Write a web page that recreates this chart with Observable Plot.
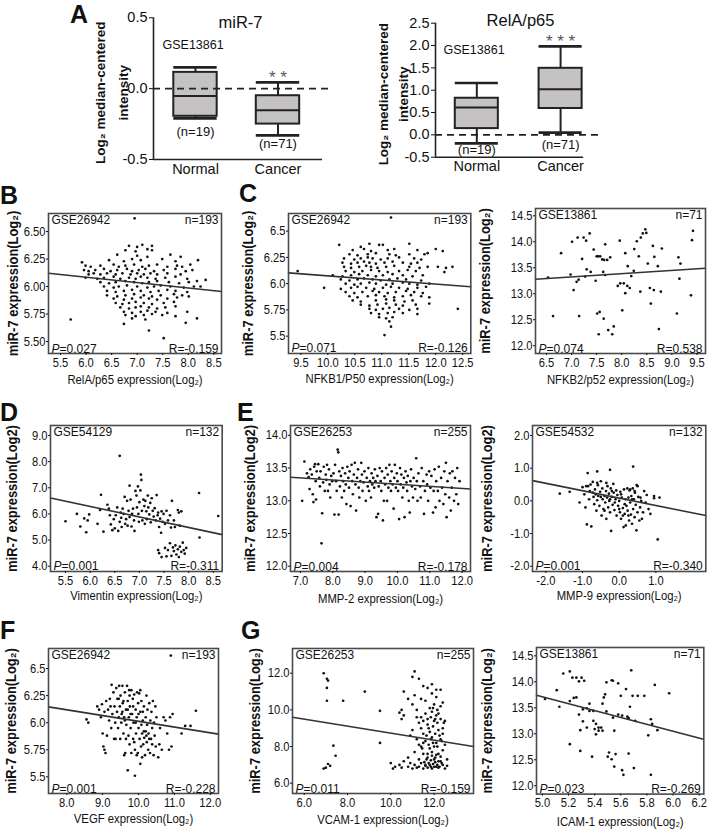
<!DOCTYPE html>
<html><head><meta charset="utf-8">
<script src="https://cdn.jsdelivr.net/npm/d3@7"></script>
<script src="https://cdn.jsdelivr.net/npm/@observablehq/plot@0.6"></script>
<style>
body{margin:0;background:#fff;}
#fig{position:relative;width:709px;height:836px;overflow:hidden;background:#fff;font-family:"Liberation Sans",Arial,sans-serif;color:#111;}
.panel{position:absolute;}
.panel svg{overflow:visible;}
.letter{position:absolute;font-weight:bold;font-size:25px;line-height:1;}
</style></head><body><div id="fig"></div>
<script>
// ---------------- DATA ----------------
const groups = ["Normal", "Cancer"];
const groupN = ["(n=19)", "(n=71)"];
// miR-7 box stats (GSE13861)
const mirMin = [-0.21, -0.33], mirQ1 = [-0.195, -0.25], mirMed = [-0.052, -0.153], mirQ3 = [0.115, -0.05], mirMax = [0.15, 0.044];
const mirSig = ["", "* *"];
const mirTicks = [-0.5, 0, 0.5], mirTickLabels = ["-0.5", "0.0", "0.5"];
// RelA/p65 box stats
const relMin = [-0.19, 0.05], relQ1 = [0.14, 0.59], relMed = [0.61, 1.02], relQ3 = [0.82, 1.49], relMax = [1.16, 1.98];
const relSig = ["", "* * *"];
const relTicks = [-0.5, 0, 0.5, 1, 1.5, 2, 2.5], relTickLabels = ["-0.5", "0.0", "0.5", "1.0", "1.5", "2.0", "2.5"];

// B: RelA/p65 vs miR-7 (GSE26942)
const ptsB = [[6.95,6.62],
[6.84,6.37],[7.00,6.36],[7.10,6.38],[7.29,6.37],
[6.77,6.33],[6.97,6.32],[7.20,6.34],[7.29,6.33],
[6.61,6.29],[7.00,6.28],[7.20,6.27],[7.65,6.29],[7.85,6.27],
[5.92,6.22],[6.45,6.24],[6.74,6.23],[6.90,6.25],[7.07,6.24],[7.49,6.25],[7.75,6.23],[8.19,6.24],
[5.99,6.19],[6.09,6.18],[6.28,6.19],[6.54,6.20],[6.64,6.18],[6.77,6.19],[6.94,6.20],[7.10,6.18],[7.23,6.19],[7.39,6.20],[7.59,6.18],[7.78,6.19],[7.88,6.18],[8.04,6.20],
[5.96,6.15],[6.05,6.14],[6.18,6.15],[6.35,6.16],[6.48,6.14],[6.61,6.15],[6.80,6.16],[6.90,6.14],[7.03,6.15],[7.16,6.16],[7.33,6.14],[7.52,6.15],[7.75,6.16],[7.95,6.14],[8.08,6.15],
[6.05,6.11],[6.15,6.12],[6.28,6.11],[6.41,6.12],[6.58,6.11],[6.71,6.12],[6.87,6.11],[7.00,6.12],[7.13,6.11],[7.26,6.12],[7.39,6.11],[7.59,6.12],[7.85,6.11],
[5.99,6.08],[6.22,6.07],[6.35,6.08],[6.54,6.09],[6.67,6.07],[6.84,6.08],[6.97,6.07],[7.07,6.09],[7.20,6.08],[7.36,6.07],[7.55,6.08],[7.75,6.09],[7.98,6.07],[8.34,6.06],
[6.28,6.04],[6.45,6.03],[6.58,6.04],[6.77,6.05],[6.94,6.04],[7.10,6.03],[7.23,6.04],[7.39,6.05],[7.62,6.04],[7.82,6.03],[8.01,6.04],[8.17,6.05],
[6.35,6.00],[6.54,5.99],[6.64,6.00],[6.80,6.01],[7.00,6.00],[7.20,5.99],[7.33,6.00],[7.46,6.01],[7.65,6.00],[7.91,5.99],[8.11,6.00],[8.24,6.00],
[6.41,5.96],[6.58,5.95],[6.74,5.96],[6.90,5.97],[7.07,5.96],[7.26,5.95],[7.42,5.96],[7.59,5.97],[7.75,5.96],[7.98,5.95],
[6.41,5.92],[6.61,5.91],[6.77,5.92],[6.94,5.93],[7.13,5.92],[7.29,5.91],[7.46,5.92],[7.72,5.93],[7.88,5.92],[8.01,5.91],
[6.54,5.89],[6.74,5.88],[6.90,5.89],[7.07,5.90],[7.23,5.89],[7.39,5.88],[7.59,5.89],[7.78,5.90],
[6.58,5.85],[6.71,5.84],[6.84,5.85],[6.97,5.86],[7.13,5.85],[7.29,5.84],[7.52,5.85],[7.72,5.86],
[6.67,5.81],[6.84,5.80],[6.97,5.81],[7.07,5.82],[7.23,5.81],[7.39,5.80],[7.55,5.81],[7.75,5.82],
[6.74,5.77],[6.90,5.76],[7.07,5.77],[7.20,5.78],[7.36,5.77],[7.59,5.76],[7.98,5.77],
[6.77,5.74],[6.97,5.73],[7.13,5.74],[7.29,5.75],[7.49,5.74],[7.75,5.73],
[5.70,5.70],[6.90,5.71],[7.16,5.70],[8.17,5.71],
[6.74,5.66],[7.95,5.67],[7.23,5.60],[7.52,5.53]];
const lineB = [[5.265,6.12],[8.65,5.955]];

// C: NFKB1/P50 vs miR-7 (GSE26942)
const ptsC = [[11.17,6.63],
[10.21,6.37],[10.61,6.35],[10.77,6.38],[10.95,6.37],[11.02,6.37],[11.51,6.38],
[10.46,6.32],[10.67,6.33],[10.80,6.31],[11.11,6.32],[11.23,6.33],[11.66,6.32],[12.00,6.33],[12.13,6.31],
[10.40,6.28],[10.55,6.27],[10.74,6.28],[10.89,6.29],[11.14,6.28],[11.26,6.27],[11.51,6.28],[11.79,6.28],[11.85,6.29],
[10.30,6.24],[10.49,6.23],[10.61,6.24],[10.74,6.25],[10.83,6.24],[10.98,6.23],[11.11,6.24],[11.32,6.25],[11.60,6.24],[11.73,6.23],
[10.27,6.20],[10.43,6.19],[10.55,6.20],[10.67,6.21],[10.77,6.20],[10.89,6.19],[11.05,6.20],[11.20,6.21],[11.39,6.20],[11.54,6.19],[11.66,6.20],
[10.30,6.16],[10.43,6.15],[10.58,6.16],[10.71,6.17],[10.80,6.16],[10.92,6.15],[11.08,6.16],[11.23,6.17],[11.51,6.16],[11.70,6.15],[11.85,6.16],[12.04,6.16],[12.19,6.15],[12.31,6.16],
[9.44,6.12],[10.33,6.12],[10.49,6.11],[10.64,6.12],[10.80,6.13],[10.95,6.12],[11.11,6.11],[11.32,6.12],[11.48,6.13],[11.63,6.12],[12.16,6.11],
[10.09,6.08],[10.27,6.07],[10.43,6.08],[10.58,6.09],[10.74,6.08],[10.89,6.07],[11.02,6.08],[11.20,6.09],[11.39,6.08],[11.57,6.07],[11.76,6.08],
[10.24,6.04],[10.40,6.03],[10.55,6.04],[10.67,6.05],[10.83,6.04],[10.98,6.03],[11.14,6.04],[11.29,6.05],[11.45,6.04],[11.73,6.03],
[10.33,6.00],[10.49,5.99],[10.61,6.00],[10.77,6.01],[10.89,6.00],[11.08,5.99],[11.20,6.00],[11.39,6.01],[11.51,6.00],[11.66,5.99],[11.88,6.00],
[9.93,5.96],[10.24,5.95],[10.43,5.96],[10.55,5.97],[10.71,5.96],[10.86,5.95],[11.02,5.96],[11.17,5.97],[11.32,5.96],[11.48,5.95],[11.66,5.96],[11.82,5.97],
[10.33,5.92],[10.49,5.91],[10.64,5.92],[10.83,5.93],[10.95,5.92],[11.11,5.91],[11.26,5.92],[11.45,5.93],[11.60,5.92],[11.76,5.91],
[10.40,5.88],[10.55,5.87],[10.74,5.88],[10.89,5.89],[11.05,5.88],[11.23,5.87],[11.39,5.88],[11.54,5.89],[11.73,5.88],[11.88,5.87],
[10.46,5.84],[10.61,5.83],[10.89,5.84],[11.08,5.85],[11.23,5.84],[11.42,5.83],[11.57,5.84],
[10.61,5.80],[10.77,5.79],[10.92,5.80],[11.08,5.81],[11.26,5.80],[11.39,5.79],[11.63,5.80],[11.88,5.81],
[10.77,5.76],[10.89,5.75],[11.02,5.76],[11.14,5.77],[11.32,5.76],[11.51,5.75],[11.66,5.76],[12.41,5.76],
[10.80,5.72],[10.95,5.71],[11.11,5.72],[11.23,5.73],[11.39,5.72],[11.66,5.71],
[10.95,5.68],[11.08,5.67],[11.20,5.68],[11.14,5.64],[11.17,5.59],[11.05,5.51]];
const lineC = [[9.27,6.103],[12.65,5.97]];

// C (right): NFKB2/p52 vs miR-7 (GSE13861)
const ptsC2 = [[6.53,13.31],[6.63,12.57],[6.79,13.78],[6.98,13.37],[7.01,14.0],[7.04,13.07],[7.10,13.23],[7.12,14.08],[7.14,13.27],[7.15,12.57],
[7.21,13.67],[7.24,14.08],[7.27,13.33],[7.29,14.02],[7.30,13.47],[7.36,14.16],[7.38,13.42],[7.44,13.85],[7.48,13.25],[7.50,13.72],
[7.51,12.62],[7.53,13.72],[7.54,12.22],[7.56,12.65],[7.57,13.72],[7.61,13.66],[7.63,13.42],[7.64,12.52],[7.65,13.65],[7.67,13.95],
[7.67,13.36],[7.71,13.65],[7.73,12.30],[7.77,13.70],[7.81,12.22],[7.84,12.37],[7.92,13.15],[7.96,14.02],[7.97,13.20],[8.01,12.68],
[8.04,13.20],[8.07,13.01],[8.07,13.78],[8.11,13.15],[8.12,13.53],[8.16,13.11],[8.19,13.34],[8.24,13.44],[8.25,13.86],[8.30,14.01],
[8.34,13.72],[8.37,13.04],[8.38,14.08],[8.42,14.16],[8.47,14.24],[8.49,14.17],[8.52,13.58],[8.56,13.11],[8.58,12.81],[8.62,13.92],
[8.64,13.07],[8.65,13.71],[8.72,13.53],[8.74,12.32],[8.78,13.04],[8.80,13.87],[9.10,12.62],[9.13,13.70],[9.15,13.29],[9.17,13.58],
[9.38,12.97],[9.40,14.03],[9.42,14.21]];
const lineC2 = [[6.28,13.28],[9.67,13.49]];

// D: Vimentin vs miR-7 (GSE54129)
const ptsD = [[5.50,5.72],[5.73,6.00],[5.80,5.52],[5.88,5.83],[5.92,5.30],[5.95,5.75],[5.98,5.98],[6.15,5.62],[6.20,6.15],[6.22,6.73],[6.27,5.32],
[6.35,6.35],[6.38,6.20],[6.40,5.95],[6.42,5.60],[6.45,5.38],[6.48,5.80],[6.50,5.45],[6.52,5.95],[6.55,6.25],[6.57,5.35],[6.60,8.22],[6.60,5.70],
[6.62,6.05],[6.63,5.85],[6.64,5.50],[6.66,6.20],[6.68,6.00],[6.70,6.65],[6.71,5.62],[6.73,5.80],[6.75,6.50],[6.76,5.55],[6.78,6.12],[6.80,7.08],
[6.80,5.88],[6.82,6.55],[6.84,5.52],[6.85,6.00],[6.87,6.20],[6.89,5.75],[6.90,5.35],[6.92,6.88],[6.94,6.70],[6.95,6.25],[6.97,7.05],[6.98,6.00],
[6.99,5.70],[7.00,6.45],[7.02,6.90],[7.03,7.50],[7.04,7.30],[7.05,6.12],[7.06,5.75],[7.08,6.55],[7.10,6.30],[7.11,5.62],[7.12,6.50],[7.14,6.10],
[7.15,5.80],[7.17,6.70],[7.18,6.25],[7.20,5.98],[7.22,6.42],[7.23,5.68],[7.25,6.60],[7.27,6.12],[7.29,5.90],[7.31,6.22],[7.33,5.75],[7.35,6.72],
[7.37,5.95],[7.38,6.05],[7.40,5.50],[7.42,5.82],[7.44,5.28],[7.45,6.10],[7.47,5.70],[7.49,6.00],[7.52,5.62],[7.55,6.12],[7.58,5.75],[7.62,5.95],
[7.64,5.48],[7.66,6.50],[7.70,5.75],[7.72,5.50],[7.78,6.15],[7.80,6.05],[7.82,5.55],[7.85,6.10],[8.21,6.80],
[7.38,4.62],[7.40,4.50],[7.45,4.35],[7.52,4.70],[7.55,4.38],[7.58,4.62],[7.62,4.88],[7.65,4.40],[7.68,4.72],[7.70,4.58],
[7.73,4.80],[7.75,4.45],[7.78,4.65],[7.80,4.35],[7.82,4.75],[7.85,4.55],[7.88,4.90],[7.90,4.62],[7.92,4.48],[7.95,4.70],
[8.22,5.10],[8.60,5.92]];
const lineD = [[5.195,6.61],[8.68,5.21]];

// E: MMP-2 vs miR-7 (GSE26253)
const ptsE = [[7.05,13.0],[7.12,13.6],[7.2,13.42],[7.25,13.36],[7.28,13.18],[7.3,13.48],[7.35,13.4],[7.38,13.1],[7.4,12.98],[7.42,13.52],[7.45,13.56],[7.47,13.3],[7.48,13.02],[7.5,13.45],
[7.55,13.56],[7.58,13.35],[7.6,13.22],[7.62,13.45],[7.65,12.35],[7.67,12.81],[7.7,13.28],[7.72,13.52],[7.75,13.15],[7.78,13.4],[7.8,13.32],[7.82,13.55],[7.85,13.15],[7.88,13.48],[7.9,13.25],[7.92,13.05],[7.95,13.38],[7.98,13.3],
[8.02,13.42],[8.05,12.79],[8.07,13.55],[8.1,13.3],[8.12,13.15],[8.15,13.78],[8.17,13.74],[8.18,12.79],[8.2,13.45],[8.22,13.22],[8.25,13.38],[8.28,13.05],[8.3,13.5],[8.32,13.3],[8.35,13.15],[8.38,13.42],[8.4,13.25],[8.42,12.95],[8.45,13.52],[8.48,13.35],
[8.5,13.2],[8.52,13.45],[8.55,12.92],[8.58,13.55],[8.6,13.3],[8.62,13.1],[8.65,13.4],[8.68,13.58],[8.7,13.25],[8.72,12.85],[8.75,13.35],[8.78,13.48],[8.8,13.2],[8.82,13.05],[8.85,13.3],[8.88,13.58],[8.9,13.4],[8.92,13.15],[8.95,13.28],[8.98,13.45],
[9.02,13.0],[9.05,13.35],[9.08,13.22],[9.1,13.5],[9.12,13.15],[9.15,13.3],[9.18,13.05],[9.2,13.42],[9.22,13.25],[9.25,13.35],[9.28,13.2],[9.3,13.48],[9.32,13.3],[9.35,12.75],[9.38,13.38],[9.4,12.8],[9.42,13.22],[9.45,13.5],[9.48,13.3],
[9.5,13.15],[9.52,13.45],[9.55,12.7],[9.58,13.0],[9.6,13.35],[9.62,13.25],[9.65,13.5],[9.68,13.0],[9.7,13.4],[9.72,13.2],[9.75,13.55],[9.78,13.3],[9.8,13.15],[9.82,13.45],[9.85,13.25],[9.88,12.88],[9.9,13.35],[9.92,13.55],[9.95,13.2],[9.98,13.42],
[10.0,13.3],[10.02,13.15],[10.05,12.72],[10.08,13.5],[10.1,13.25],[10.12,13.4],[10.15,13.05],[10.18,13.2],[10.2,13.35],[10.22,12.75],[10.25,13.45],[10.28,13.28],[10.3,13.15],[10.32,13.38],[10.35,13.0],[10.38,12.82],[10.4,13.3],[10.42,13.48],[10.45,13.22],[10.48,13.05],
[10.5,13.35],[10.55,13.18],[10.58,13.65],[10.6,13.3],[10.62,13.0],[10.65,13.42],[10.7,13.22],[10.72,13.05],[10.75,13.5],[10.8,13.3],[10.82,12.8],[10.85,13.15],[10.9,13.4],[10.92,13.25],[10.95,13.0],[10.98,13.45],
[11.02,13.2],[11.05,13.38],[11.1,12.82],[11.12,13.15],[11.15,13.48],[11.18,12.9],[11.2,13.3],[11.25,13.15],[11.28,13.52],[11.3,13.0],[11.35,13.35],[11.38,13.2],[11.42,12.95],[11.45,13.45],[11.48,13.1],
[11.5,13.58],[11.52,12.75],[11.55,13.3],[11.6,13.05],[11.62,13.42],[11.65,12.85],[11.68,13.2],[11.7,13.45],[11.75,13.0],[11.78,13.35],[11.82,13.1],[11.85,13.5],[11.88,12.95],[11.92,13.3]];
const lineE = [[6.69,13.36],[12.26,13.18]];

// E (right): MMP-9 vs miR-7 (GSE54532)
const ptsE2 = [[-1.62,0.22],[-1.35,0.28],[-1.08,-0.05],[-1.0,0.42],[-0.95,0.2],[-0.92,-0.2],[-0.88,-0.72],[-0.85,0.45],[-0.82,0.05],[-0.8,0.3],
[-0.78,0.5],[-0.76,-0.78],[-0.86,0.85],[-0.72,0.58],[-0.7,0.12],[-0.68,-0.1],[-0.66,0.35],[-0.64,0.2],[-0.62,-0.3],[-0.6,0.02],
[-0.58,0.48],[-0.6,0.9],[-0.54,-0.15],[-0.52,0.28],[-0.5,0.12],[-0.48,-0.45],[-0.46,0.38],[-0.45,0.05],[-0.43,-0.25],[-0.25,0.95],
[-0.4,0.15],[-0.38,-0.05],[-0.36,0.3],[-0.35,-0.55],[-0.33,0.1],[-0.32,0.45],[-0.3,-0.2],[-0.28,0.22],[-0.27,0.0],[-0.25,-0.35],
[-0.23,0.38],[-0.22,-0.92],[-0.2,0.12],[-0.18,-0.12],[-0.16,0.52],[-0.15,0.25],[-0.13,-0.28],[-0.1,0.05],[-0.08,0.32],[-0.07,-0.45],
[-0.05,0.18],[-0.03,-0.15],[0.0,0.0],[0.02,-0.35],[0.03,0.28],[0.05,-0.55],[0.07,0.1],[0.38,1.05],[0.1,-0.22],[0.12,-0.8],
[0.13,0.35],[0.15,-0.4],[0.17,0.05],[0.18,-0.75],[0.2,-0.15],[0.22,0.38],[0.23,-0.3],[0.25,0.1],[0.27,-0.6],[0.28,0.32],
[0.3,-0.05],[0.32,-0.42],[0.33,0.15],[0.35,-0.7],[0.37,0.38],[0.38,-0.25],[0.4,0.05],[0.42,-0.5],[0.43,0.25],[0.45,-0.12],
[0.47,-0.9],[0.48,0.48],[0.5,-0.35],[0.52,0.12],[0.55,-0.6],[0.57,-0.2],[0.6,0.0],[0.62,-0.55],[0.65,-0.35],[0.68,0.3],
[0.72,-0.05],[0.75,0.18],[0.8,-0.25],[0.95,0.08],[1.05,-1.18],[-0.9,0.45],[-0.6,0.55],[-0.5,0.6],[-0.35,0.55],[-0.2,0.3],
[0.0,-0.25],[0.05,0.2],[-0.12,-0.05],[0.25,-0.45],[0.35,0.05],[0.42,0.3],[0.5,0.45],[-0.72,0.25],[-0.4,-0.3],[-0.57,0.15],
[0.15,-0.1],[0.3,0.35],[-0.25,0.05],[0.1,-0.45],[0.58,0.1],[0.95,0.15],[1.1,0.1],[0.85,-0.4]];
const lineE2 = [[-2.36,0.62],[2.36,-0.45]];

// F: VEGF vs miR-7 (GSE26942)
const ptsF = [[8.55,6.03],[8.6,6.0],[8.85,6.15],[8.9,6.12],[8.95,6.05],[9.0,5.9],[8.98,6.17],
[9.02,5.78],[9.05,5.75],[9.08,5.72],[9.05,6.1],[9.1,6.2],[9.12,5.88],[9.15,6.12],[9.18,6.02],[9.2,6.22],[9.22,6.15],[9.24,5.95],
[9.25,6.35],[9.27,6.08],[9.3,6.28],[9.32,5.85],[9.33,6.15],[9.35,6.0],[9.36,5.85],[9.38,6.32],[9.4,6.1],[9.41,6.22],[9.43,5.95],[9.45,6.05],[9.46,6.34],[9.48,6.15],[9.49,5.85],
[9.5,6.25],[9.52,6.0],[9.53,6.08],[9.55,6.34],[9.56,6.18],[9.58,5.9],[9.6,6.05],[9.6,5.7],[9.62,6.28],[9.63,5.72],[9.65,6.12],[9.66,5.98],[9.68,6.34],[9.7,5.56],[9.7,6.2],[9.72,5.88],[9.73,6.05],[9.74,6.3],[9.75,5.8],
[9.76,6.15],[9.78,5.95],[9.8,6.3],[9.8,5.72],[9.82,6.08],[9.84,6.22],[9.85,5.85],[9.86,6.0],[9.88,6.26],[9.9,5.75],[9.9,5.51],[9.92,6.12],[9.93,5.9],[9.95,6.05],[9.96,6.28],[9.98,5.72],[9.99,6.18],
[10.0,5.95],[10.02,6.27],[10.03,5.85],[10.05,6.1],[10.05,5.62],[10.07,5.78],[10.08,6.2],[10.1,5.9],[10.1,5.68],[10.12,6.02],[10.13,5.8],[10.15,6.15],[10.16,5.86],[10.18,5.7],[10.2,6.05],[10.2,5.92],[10.22,6.25],[10.23,5.82],[10.24,5.98],
[10.25,6.12],[10.27,5.75],[10.28,5.9],[10.3,6.18],[10.32,5.72],[10.33,6.02],[10.35,5.85],[10.36,6.1],[10.38,5.95],[10.4,6.2],[10.42,5.7],[10.43,6.0],[10.45,5.88],[10.47,6.15],[10.48,5.78],
[10.5,6.05],[10.55,5.68],[10.58,5.8],[10.6,5.95],[10.65,5.75],[10.7,6.05],[10.75,6.02],[10.8,5.9],[10.85,5.75],[10.88,6.05],[10.9,6.62],[10.92,5.78],[10.95,6.08],
[11.2,5.9],[11.3,5.97],[11.45,5.97],[11.6,6.11],
[9.45,6.22],[9.55,6.1],[9.62,6.02],[9.7,6.12],[9.78,6.08],[9.85,6.15],[9.92,6.0],[10.0,6.08],[10.08,5.98],[10.15,5.92],[10.22,5.88],[10.3,5.85],[10.38,5.8],[9.65,5.85],[9.88,5.82],[10.12,6.1],[9.58,6.2],[9.75,6.25],[10.05,6.3],[9.95,5.7]];
const lineF = [[7.49,6.146],[12.23,5.894]];

// G: VCAM-1 vs miR-7 (GSE26253)
const ptsG = [[6.9,12.0],[7.05,11.7],[7.1,11.6],[7.05,11.2],[7.05,10.5],[7.8,10.5],[8.8,11.0],[7.35,8.05],[7.45,7.5],[6.9,6.8],[7.0,6.85],[7.1,7.05],[7.2,6.95],[9.5,9.95],[9.5,8.2],
[10.6,11.0],[11.0,11.8],[11.1,12.1],[11.3,11.7],[11.5,11.3],[11.7,11.2],[11.9,11.4],[12.1,11.1],[12.3,11.1],[11.9,10.9],[11.1,10.8],[11.4,10.6],[10.8,10.6],[11.0,10.3],[11.6,10.5],
[12.1,10.7],[12.4,10.4],[12.0,10.3],[11.8,10.1],[11.2,10.0],[10.5,10.0],[10.4,9.85],[10.6,9.7],[10.5,9.5],[11.2,9.6],[11.3,9.3],[11.6,9.8],[11.9,9.9],[12.1,9.7],[12.3,9.5],
[12.5,9.4],[12.0,9.4],[11.7,9.2],[11.4,9.0],[11.0,8.9],[10.9,8.6],[11.5,8.7],[11.8,8.8],[12.2,8.9],[12.4,9.0],[11.2,8.4],[11.6,8.3],[11.9,8.5],[12.1,8.2],[12.3,8.4],
[11.4,8.0],[11.8,7.9],[12.0,8.0],[12.5,8.1],[11.1,7.7],[11.5,7.6],[11.9,7.7],[12.2,7.6],[12.4,7.8],[10.8,7.4],[11.3,7.3],[11.7,7.4],[12.0,7.3],[12.3,7.2],[12.6,7.3],
[10.0,7.1],[10.2,6.9],[10.4,7.0],[10.6,7.2],[10.9,7.1],[11.1,7.0],[11.4,7.1],[11.6,6.95],[11.8,7.0],[12.1,6.9],[12.4,7.0],[12.6,6.95],[10.1,6.8],[10.5,6.85],[10.8,6.9],
[11.2,6.85],[11.5,6.8],[11.7,6.85],[11.9,6.8],[12.0,6.9],[12.2,6.85],[12.5,6.8],[11.3,6.9],[11.0,6.8],
[11.6,7.0],[11.75,7.1],[11.85,6.9],[11.95,7.05],[12.05,7.15],[12.15,7.0],[12.25,6.9],[12.35,7.1],[11.65,7.3],[11.85,7.25],[12.05,7.4],[12.2,7.2],[11.55,7.15],[11.7,7.6],
[11.9,7.5],[12.1,7.55],[12.3,7.45],[11.75,8.1],[11.95,8.2],[12.15,8.0],[12.35,8.3],[11.65,8.6],[11.85,8.4],[12.05,8.7],[12.25,8.6],[11.75,9.0],[11.95,9.1],[12.15,9.3],
[11.85,9.6],[12.05,9.5],[12.2,9.8],[11.95,10.1],[12.15,10.0],[12.3,10.2],[11.7,9.5],[12.45,9.3],[12.4,8.7],[11.5,9.4],[11.4,9.6],[11.3,8.1],[11.5,8.2],[11.45,7.9]];
const lineG = [[5.46,9.6],[13.82,8.0]];

// G (right): ICAM-1 vs miR-7 (GSE13861)
const ptsG2 = [[5.02,13.67],[5.11,13.84],[5.13,13.52],[5.16,14.16],[5.21,12.80],[5.21,14.20],[5.23,14.08],[5.21,13.63],[5.24,13.69],[5.26,14.08],
[5.26,13.70],[5.28,14.01],[5.28,13.37],[5.29,13.07],[5.29,12.67],[5.30,14.08],[5.31,13.47],[5.31,13.24],[5.32,14.02],[5.34,13.12],
[5.34,13.49],[5.36,13.58],[5.36,13.44],[5.38,12.56],[5.39,13.44],[5.39,13.25],[5.40,13.09],[5.41,13.19],[5.41,12.99],[5.43,13.12],
[5.43,13.06],[5.45,13.12],[5.46,13.06],[5.46,13.58],[5.47,13.70],[5.48,13.76],[5.49,13.43],[5.49,13.99],[5.50,12.56],[5.51,12.64],
[5.53,14.03],[5.53,12.51],[5.54,14.02],[5.54,13.31],[5.55,13.06],[5.55,12.37],[5.56,12.61],[5.58,13.97],[5.58,13.37],[5.60,13.73],
[5.61,13.35],[5.61,12.30],[5.62,12.21],[5.64,13.86],[5.65,13.33],[5.66,13.30],[5.66,12.62],[5.67,13.52],[5.68,14.22],[5.69,13.73],
[5.70,12.34],[5.71,13.25],[5.73,13.73],[5.78,13.73],[5.81,12.97],[5.83,12.21],[5.83,13.28],[5.84,13.19],[5.86,13.94],[5.88,13.07],[5.97,13.78]];
const lineG2 = [[4.955,13.74],[6.225,12.90]];

// tick values and labels
const tB = {x:[5.5,6,6.5,7,7.5,8,8.5], xl:["5.5","6.0","6.5","7.0","7.5","8.0","8.5"], y:[5.5,5.75,6,6.25,6.5], yl:["5.50","5.75","6.00","6.25","6.50"]};
const tC = {x:[9.5,10,10.5,11,11.5,12,12.5], xl:["9.5","10.0","10.5","11.0","11.5","12.0","12.5"], y:[5.5,5.75,6,6.25,6.5], yl:["5.5","5.75","6.0","6.25","6.5"]};
const tC2 = {x:[6.5,7,7.5,8,8.5,9,9.5], xl:["6.5","7.0","7.5","8.0","8.5","9.0","9.5"], y:[12,12.5,13,13.5,14,14.5], yl:["12.0","12.5","13.0","13.5","14.0","14.5"]};
const tD = {x:[5.5,6,6.5,7,7.5,8,8.5], xl:["5.5","6.0","6.5","7.0","7.5","8.0","8.5"], y:[4,5,6,7,8,9], yl:["4.0","5.0","6.0","7.0","8.0","9.0"]};
const tE = {x:[7,8,9,10,11,12], xl:["7.0","8.0","9.0","10.0","11.0","12.0"], y:[12,12.5,13,13.5,14], yl:["12.0","12.5","13.0","13.5","14.0"]};
const tE2 = {x:[-2,-1,0,1], xl:["-2.0","-1.0","0.0","1.0"], y:[-2,-1,0,1,2], yl:["-2.0","-1.0","0.0","1.0","2.0"]};
const tF = {x:[8,9,10,11,12], xl:["8.0","9.0","10.0","11.0","12.0"], y:[5.5,5.75,6,6.25,6.5], yl:["5.5","5.75","6.0","6.25","6.5"]};
const tG = {x:[6,8,10,12], xl:["6.0","8.0","10.0","12.0"], y:[6,8,10,12], yl:["6.0","8.0","10.0","12.0"]};
const tG2 = {x:[5,5.2,5.4,5.6,5.8,6,6.2], xl:["5.0","5.2","5.4","5.6","5.8","6.0","6.2"], y:[12,12.5,13,13.5,14,14.5], yl:["12.0","12.5","13.0","13.5","14.0","14.5"]};

// ---------------- DRAWING ----------------
const fig = document.getElementById("fig");
const NS = "http://www.w3.org/2000/svg";
const SANS = '"Liberation Sans", "DejaVu Sans", Arial, sans-serif';

function place(svg, left, top) {
  const d = document.createElement("div");
  d.className = "panel"; d.style.left = left + "px"; d.style.top = top + "px";
  d.appendChild(svg); fig.appendChild(d);
}
// italic P in "P=..." labels
function italicP(root) {
  root.querySelectorAll("text").forEach(t => {
    const s = t.textContent;
    if (t.querySelector("tspan") || !s.startsWith("P=")) return;
    t.textContent = "";
    const it = document.createElementNS(NS, "tspan");
    it.setAttribute("font-style", "italic"); it.textContent = "P";
    t.appendChild(it); t.appendChild(document.createTextNode(s.slice(1)));
  });
}
// narrow the condensed-looking texts of the scatter panels (they stay real text)
function condense(root) {
  root.querySelectorAll("text").forEach(t => {
    const s = t.textContent;
    let k = 0;
    if (/^-?\d+(\.\d+)?$/.test(s)) k = 0.86;           // tick labels
    else if (s.startsWith("miR-7 expression")) k = 0.86; // y titles
    else if (s.includes("expression")) k = 0.87;         // x titles
    if (!k) return;
    const L = t.getComputedTextLength();
    if (L > 0) { t.setAttribute("textLength", (L * k).toFixed(1)); t.setAttribute("lengthAdjust", "spacingAndGlyphs"); }
  });
}
function letter(ch, left, top) {
  const d = document.createElement("div");
  d.className = "letter"; d.textContent = ch;
  d.style.left = left + "px"; d.style.top = top + "px";
  fig.appendChild(d);
}

function scatter(s) {
  const mL = 62, mT = 4, mR = 4, mB = 46;
  const [l, t, r, b] = s.frame;
  const fx = new Map(s.ticks.x.map((v, i) => [v, s.ticks.xl[i]]));
  const fy = new Map(s.ticks.y.map((v, i) => [v, s.ticks.yl[i]]));
  const svg = Plot.plot({
    width: (r - l) + mL + mR, height: (b - t) + mT + mB,
    marginLeft: mL, marginTop: mT, marginRight: mR, marginBottom: mB,
    x: {domain: s.xDomain, axis: null},
    y: {domain: s.yDomain, axis: null},
    style: {fontFamily: SANS, overflow: "visible", background: "transparent", color: "#111"},
    marks: [
      Plot.dot(s.pts, {r: 1.35, fill: "#111", stroke: null}),
      Plot.line(s.line, {stroke: "#333", strokeWidth: 1.6}),
      Plot.frame({stroke: "#4a4a4a", strokeWidth: 1.6}),
      Plot.axisX(s.ticks.x, {tickSize: 2, tickPadding: 2, tickFormat: d => fx.get(d), fontSize: 13, label: null}),
      Plot.axisY(s.ticks.y, {tickSize: 2, tickPadding: 1, tickFormat: d => fy.get(d), fontSize: 13, label: null}),
      Plot.text([s.gse], {frameAnchor: "top-left", dx: 3, dy: 2, lineAnchor: "top", fontSize: 12, fill: "#111"}),
      Plot.text([s.n], {frameAnchor: "top-right", dx: -3, dy: 2, lineAnchor: "top", fontSize: 12, fill: "#111"}),
      Plot.text([s.p], {frameAnchor: "bottom-left", dx: 3, dy: -1, lineAnchor: "bottom", fontSize: 12, fill: "#111"}),
      Plot.text([s.rr], {frameAnchor: "bottom-right", dx: -3, dy: -1, lineAnchor: "bottom", fontSize: 12, fill: "#111"}),
      Plot.text([s.yTitle], {frameAnchor: "left", textAnchor: "middle", rotate: -90, dx: s.yOff, fontWeight: "bold", fontSize: 15, fill: "#111"}),
      Plot.text([s.xTitle], {frameAnchor: "bottom", textAnchor: "middle", dy: s.xOff, fontSize: 13, fill: "#111"})
    ]
  });
  italicP(svg);
  place(svg, l - mL, t - mT);
  condense(svg);
}

function boxPanel(s) {
  const [l, t, r, b] = s.frame;
  const left = s.svgLeft, mL = l - left, mT = t, mR = 6, mB = 32;
  const rows = groups.map((g, i) => ({pos: i + 1, name: g, n: groupN[i], sig: s.sig[i],
    min: s.min[i], q1: s.q1[i], med: s.med[i], q3: s.q3[i], max: s.max[i]}));
  const hw = s.hw;
  const fy = new Map(s.ticks.map((v, i) => [v, s.tickLabels[i]]));
  const x0 = s.xDomain[0], y0 = s.yDomain[0];
  const svg = Plot.plot({
    width: (r - l) + mL + mR, height: (b - t) + mT + mB,
    marginLeft: mL, marginTop: mT, marginRight: mR, marginBottom: mB,
    x: {domain: s.xDomain, axis: null},
    y: {domain: s.yDomain, axis: null},
    style: {fontFamily: SANS, overflow: "visible", background: "transparent", color: "#111"},
    marks: [
      Plot.rect(rows, {x1: d => d.pos - hw, x2: d => d.pos + hw, y1: "q1", y2: "q3", fill: "#c4c2c2", stroke: "#222", strokeWidth: 2}),
      Plot.ruleX(rows, {x: "pos", y1: "q3", y2: "max", stroke: "#222", strokeWidth: 2}),
      Plot.ruleX(rows, {x: "pos", y1: "min", y2: "q1", stroke: "#222", strokeWidth: 2}),
      Plot.ruleY(rows, {y: "max", x1: d => d.pos - hw, x2: d => d.pos + hw, stroke: "#222", strokeWidth: 2.6}),
      Plot.ruleY(rows, {y: "min", x1: d => d.pos - hw, x2: d => d.pos + hw, stroke: "#222", strokeWidth: 2.6}),
      Plot.ruleY(rows, {y: "med", x1: d => d.pos - hw, x2: d => d.pos + hw, stroke: "#222", strokeWidth: 2}),
      Plot.ruleY([0], {stroke: "#222", strokeWidth: 1.6, strokeDasharray: "7,5"}),
      Plot.ruleX([x0], {stroke: "#222", strokeWidth: 1.6}),
      Plot.ruleY([y0], {x1: x0, x2: s.axisEnd, stroke: "#222", strokeWidth: 1.6}),
      Plot.axisY(s.ticks, {tickSize: 4, tickPadding: 2, tickFormat: d => fy.get(d), fontSize: 14.5, label: null}),
      Plot.axisX(rows.map(d => d.pos), {tickSize: 0, tickPadding: 4, tickFormat: d => groups[d - 1], fontSize: 14.5, label: null}),
      Plot.text(rows.slice(0, 1), {x: "pos", y: "min", text: "n", dy: s.nDy[0], fontSize: 13, fill: "#111"}),
      Plot.text(rows.slice(1, 2), {x: "pos", y: "min", text: "n", dy: s.nDy[1], fontSize: 13, fill: "#111"}),
      Plot.text(rows, {x: "pos", y: "max", text: "sig", dy: -5, fontSize: 17, fill: "#555"}),
      Plot.text([s.title], {frameAnchor: "top", dx: s.titleDx, dy: s.titleDy, lineAnchor: "middle", fontSize: 16.5, fill: "#111"}),
      Plot.text([s.gse], {frameAnchor: "top-left", dx: s.gseDx, dy: s.gseDy, lineAnchor: "middle", fontSize: 12.5, fill: "#111"}),
      Plot.text([s.yTitle[0]], {frameAnchor: "left", textAnchor: "middle", rotate: -90, dx: s.yOff[0], dy: 4, fontWeight: "bold", fontSize: 13.5, fill: "#111"}),
      Plot.text([s.yTitle[1]], {frameAnchor: "left", textAnchor: "middle", rotate: -90, dx: s.yOff[1], dy: 4, fontWeight: "bold", fontSize: 13.5, fill: "#111"})
    ]
  });
  place(svg, left, 0);
}

const yTitleA = ["Log₂ median-centered", "intensity"];
boxPanel({frame: [153, 17.3, 333, 159], svgLeft: 40, xDomain: [0.491, 2.673], yDomain: [-0.5, 0.5], axisEnd: 2.54, hw: 0.263,
  min: mirMin, q1: mirQ1, med: mirMed, q3: mirQ3, max: mirMax, sig: mirSig, ticks: mirTicks, tickLabels: mirTickLabels,
  nDy: [13, 8], title: "miR-7", titleDx: -3, titleDy: 5, gse: "GSE13861", gseDx: 9, gseDy: 27, yTitle: yTitleA, yOff: [-53, -30]});
boxPanel({frame: [435, 22.7, 602, 156.7], svgLeft: 340, xDomain: [0.507, 2.50], yDomain: [-0.5, 2.5], axisEnd: 2.275, hw: 0.257,
  min: relMin, q1: relQ1, med: relMed, q3: relQ3, max: relMax, sig: relSig, ticks: relTicks, tickLabels: relTickLabels,
  nDy: [6, 12], title: "RelA/p65", titleDx: 1.5, titleDy: -2, gse: "GSE13861", gseDx: 8, gseDy: 27, yTitle: yTitleA, yOff: [-52, -32]});

const yT = "miR-7 expression(Log₂)", yT2 = "miR-7 expression(Log2)";
scatter({frame: [48, 213, 221, 353], xDomain: [5.265, 8.65], yDomain: [5.391, 6.664], pts: ptsB, line: lineB, ticks: tB,
  gse: "GSE26942", n: "n=193", p: "P=0.027", rr: "R=-0.159", yTitle: yT, yOff: -35, xTitle: "RelA/p65 expression(Log₂)", xOff: 30});
scatter({frame: [287.7, 213.3, 470, 353.3], xDomain: [9.27, 12.65], yDomain: [5.335, 6.668], pts: ptsC, line: lineC, ticks: tC,
  gse: "GSE26942", n: "n=193", p: "P=0.071", rr: "R=-0.126", yTitle: yT, yOff: -40, xTitle: "NFKB1/P50 expression(Log₂)", xOff: 30});
scatter({frame: [535, 208.3, 705, 353.3], xDomain: [6.28, 9.67], yDomain: [11.85, 14.64], pts: ptsC2, line: lineC2, ticks: tC2,
  gse: "GSE13861", n: "n=71", p: "P=0.074", rr: "R=0.538", yTitle: yT, yOff: -50, xTitle: "NFKB2/p52 expression(Log₂)", xOff: 30});
scatter({frame: [50, 425, 221.7, 571], xDomain: [5.195, 8.68], yDomain: [3.80, 9.38], pts: ptsD, line: lineD, ticks: tD,
  gse: "GSE54129", n: "n=132", p: "P=0.001", rr: "R=-0.311", yTitle: yT2, yOff: -38, xTitle: "Vimentin expression(Log₂)", xOff: 29});
scatter({frame: [290, 425, 470, 571], xDomain: [6.69, 12.26], yDomain: [11.92, 14.15], pts: ptsE, line: lineE, ticks: tE,
  gse: "GSE26253", n: "n=255", p: "P=0.004", rr: "R=-0.178", yTitle: yT2, yOff: -40, xTitle: "MMP-2 expression(Log₂)", xOff: 31});
scatter({frame: [531.7, 425, 705, 571], xDomain: [-2.363, 2.36], yDomain: [-2.16, 2.306], pts: ptsE2, line: lineE2, ticks: tE2,
  gse: "GSE54532", n: "n=132", p: "P=0.001", rr: "R=-0.340", yTitle: yT2, yOff: -45, xTitle: "MMP-9 expression(Log₂)", xOff: 29});
scatter({frame: [48.3, 648.3, 218.3, 793.3], xDomain: [7.49, 12.23], yDomain: [5.346, 6.685], pts: ptsF, line: lineF, ticks: tF,
  gse: "GSE26942", n: "n=193", p: "P=0.001", rr: "R=-0.228", yTitle: yT, yOff: -37, xTitle: "VEGF expression(Log₂)", xOff: 29});
scatter({frame: [291.7, 648.3, 472.7, 793.3], xDomain: [5.46, 13.82], yDomain: [5.44, 13.35], pts: ptsG, line: lineG, ticks: tG,
  gse: "GSE26253", n: "n=255", p: "P=0.011", rr: "R=-0.159", yTitle: yT, yOff: -37, xTitle: "VCAM-1 expression(Log₂)", xOff: 30});
scatter({frame: [535.7, 646.7, 703, 793.3], xDomain: [4.955, 6.235], yDomain: [11.84, 14.66], pts: ptsG2, line: lineG2, ticks: tG2,
  gse: "GSE13861", n: "n=71", p: "P=0.023", rr: "R=-0.269", yTitle: yT, yOff: -49, xTitle: "ICAM-1 expression(Log₂)", xOff: 32});

letter("A", 70, 2);
letter("B", 0, 183);
letter("C", 239, 181);
letter("D", 0, 400);
letter("E", 237, 400);
letter("F", 0, 618);
letter("G", 241, 618);
</script></body></html>
